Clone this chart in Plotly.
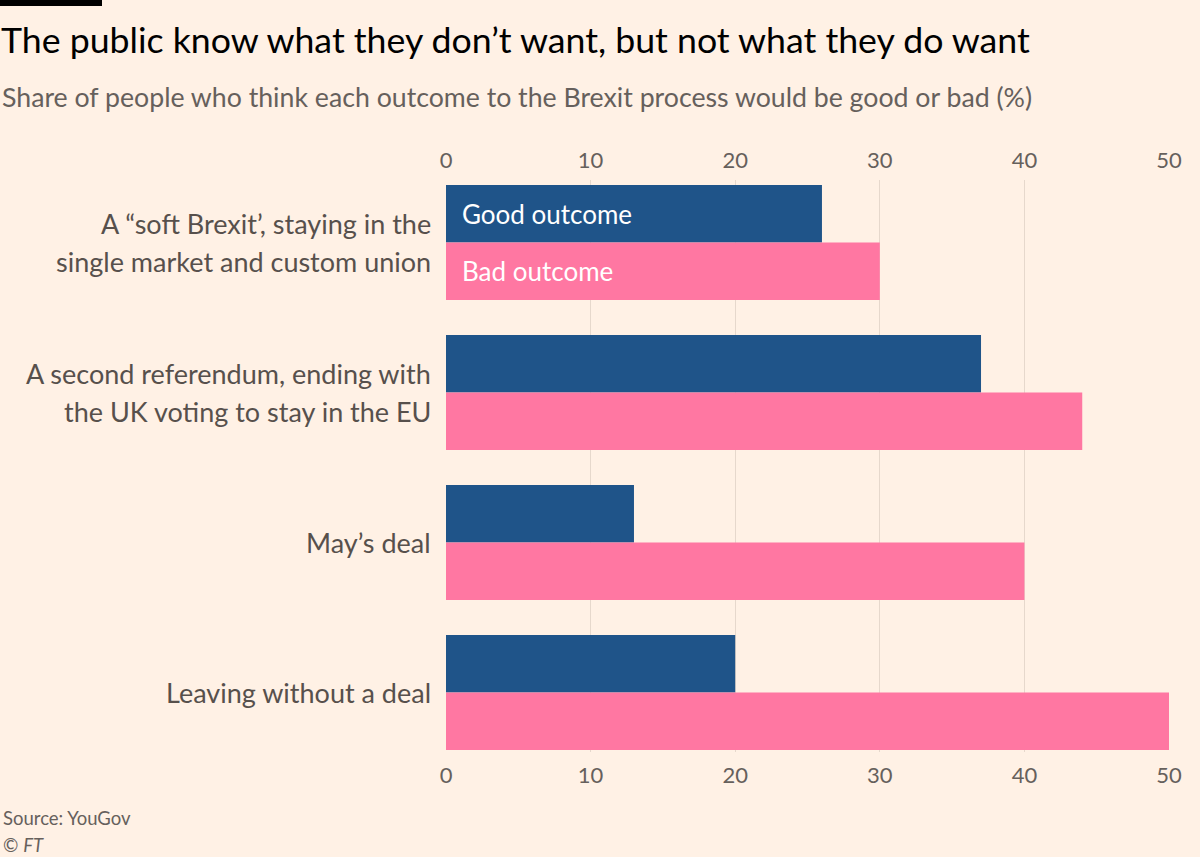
import plotly.graph_objects as go

categories = [
    "A “soft Brexit’, staying in the<br>single market and custom union",
    "A second referendum, ending with<br>the UK voting to stay in the EU",
    "May’s deal",
    "Leaving without a deal",
]
good = [26, 37, 13, 20]
bad = [30, 44, 40, 50]
tick_vals = [0, 10, 20, 30, 40, 50]
series_names = ["Good outcome", "Bad outcome"]

BG = "#FFF1E5"
BLUE = "#1F5489"
PINK = "#FF77A2"
GRID = "#E6D8CC"
TXT = "#66605C"
LAB = "#57504C"
FONT = "Lato"

W, H = 1200, 857
ML, MR, MT, MB = 446, 31, 180, 105
pw = W - ML - MR
ph = H - MT - MB


def px_x(x):
    return (x - ML) / pw


def px_y(y):
    return (H - MB - y) / ph


fig = go.Figure()
fig.add_trace(go.Bar(y=categories, x=good, name=series_names[0], orientation="h",
                     marker=dict(color=BLUE, line=dict(width=0)), hoverinfo="x+name"))
fig.add_trace(go.Bar(y=categories, x=bad, name=series_names[1], orientation="h",
                     marker=dict(color=PINK, line=dict(width=0)), hoverinfo="x+name"))
# invisible trace to activate the bottom axis
fig.add_trace(go.Scatter(x=[0, 50], y=[categories[0], categories[0]], xaxis="x2",
                         mode="markers", marker=dict(opacity=0), showlegend=False, hoverinfo="skip"))

fig.update_layout(
    width=W, height=H,
    paper_bgcolor=BG, plot_bgcolor=BG,
    margin=dict(l=ML, r=MR, t=MT, b=MB),
    barmode="group", bargap=0.233, bargroupgap=0,
    showlegend=False,
    font=dict(family=FONT, color=TXT),
    xaxis=dict(range=[0, 50], side="top", tickvals=tick_vals, showgrid=True, gridcolor=GRID,
               gridwidth=1, zeroline=False, showline=False,
               ticks="outside", ticklen=2, tickcolor="rgba(0,0,0,0)",
               tickfont=dict(size=22, color=TXT, family=FONT), fixedrange=True),
    xaxis2=dict(range=[0, 50], overlaying="x", side="bottom", tickvals=tick_vals, showgrid=False,
                zeroline=False, showline=False, anchor="y",
                ticks="outside", ticklen=4, tickcolor="rgba(0,0,0,0)",
                tickfont=dict(size=22, color=TXT, family=FONT)),
    yaxis=dict(type="category", categoryorder="array", categoryarray=categories,
               range=[3.396, -0.417], showgrid=False, zeroline=False, showline=False,
               showticklabels=False),
)

# category labels, line by line, right-aligned left of the plot
for i, cat in enumerate(categories):
    lines = cat.split("<br>")
    n = len(lines)
    for j, line in enumerate(lines):
        shift = (-(j - (n - 1) / 2)) * 38
        fig.add_annotation(x=0, y=i, xref="x", yref="y", text=line, showarrow=False,
                           xanchor="right", yanchor="middle", xshift=-13, yshift=shift,
                           font=dict(size=27, color=LAB, family=FONT))

# inline legend labels inside first bars
fig.add_annotation(x=0, y=-0.19, xref="x", yref="y", text=series_names[0], showarrow=False,
                   xanchor="left", xshift=14, font=dict(size=26, color="white", family=FONT))
fig.add_annotation(x=0, y=0.19, xref="x", yref="y", text=series_names[1], showarrow=False,
                   xanchor="left", xshift=14, font=dict(size=26, color="white", family=FONT))

# title, subtitle, source
fig.add_annotation(x=px_x(-1), y=px_y(40), xref="paper", yref="paper",
                   text="The public know what they don’t want, but not what they do want",
                   showarrow=False, xanchor="left", yanchor="middle",
                   font=dict(size=35.7, color="#000000", family=FONT))
fig.add_annotation(x=px_x(0), y=px_y(97), xref="paper", yref="paper",
                   text="Share of people who think each outcome to the Brexit process would be good or bad (%)",
                   showarrow=False, xanchor="left", yanchor="middle",
                   font=dict(size=26.7, color=TXT, family=FONT))
fig.add_annotation(x=px_x(1), y=px_y(818), xref="paper", yref="paper", text="Source: YouGov",
                   showarrow=False, xanchor="left", yanchor="middle",
                   font=dict(size=18.5, color=TXT, family=FONT))
fig.add_annotation(x=px_x(1), y=px_y(845), xref="paper", yref="paper", text="© <i>FT</i>",
                   showarrow=False, xanchor="left", yanchor="middle",
                   font=dict(size=18.5, color=TXT, family=FONT))

fig.add_shape(type="rect", xref="paper", yref="paper",
              x0=px_x(0), x1=px_x(102), y0=px_y(0), y1=px_y(6),
              fillcolor="#000000", line=dict(width=0))

fig.write_html("out.html", config={"displayModeBar": False},
               post_script="document.body.style.margin='0';document.body.style.background='#FFF1E5';")
